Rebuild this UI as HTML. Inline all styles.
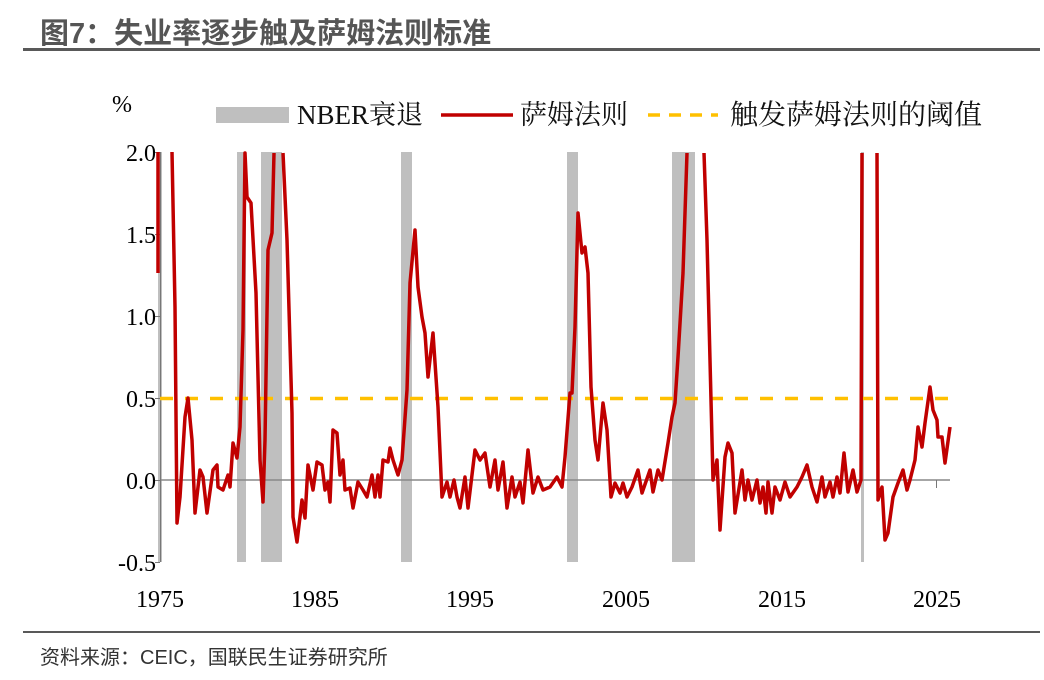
<!DOCTYPE html>
<html><head><meta charset="utf-8"><style>
body{margin:0;background:#fff;width:1044px;height:675px;overflow:hidden}
</style></head><body>
<svg width="1044" height="675" xmlns="http://www.w3.org/2000/svg">
<text x="40" y="43" font-family="Liberation Sans, Noto Sans CJK SC, sans-serif" font-size="29" font-weight="bold" fill="#555">图7：失业率逐步触及萨姆法则标准</text>
<rect x="23" y="48" width="1017" height="3" fill="#595959"/>
<rect x="23" y="631" width="1017" height="2" fill="#595959"/>
<text x="40" y="664" font-family="Liberation Sans, Noto Sans CJK SC, sans-serif" font-size="20" fill="#333">资料来源：CEIC，国联民生证券研究所</text>
<g fill="#bfbfbf">
<rect x="158" y="152" width="4" height="410"/>
<rect x="237" y="152" width="9" height="410"/>
<rect x="261" y="152" width="21" height="410"/>
<rect x="401" y="152" width="11" height="410"/>
<rect x="567" y="152" width="11" height="410"/>
<rect x="672" y="152" width="23" height="410"/>
<rect x="861" y="152" width="3" height="410"/>
</g>
<line x1="160" y1="480" x2="950" y2="480" stroke="#888" stroke-width="1.5"/>
<line x1="160.5" y1="152" x2="160.5" y2="562" stroke="#777" stroke-width="1"/>
<g stroke="#777" stroke-width="1">
<line x1="155" y1="152.5" x2="160" y2="152.5"/><line x1="155" y1="234.5" x2="160" y2="234.5"/>
<line x1="155" y1="316.5" x2="160" y2="316.5"/><line x1="155" y1="398.5" x2="160" y2="398.5"/>
<line x1="155" y1="480.5" x2="160" y2="480.5"/><line x1="155" y1="562.5" x2="160" y2="562.5"/>
<line x1="936.5" y1="480" x2="936.5" y2="488"/>
</g>
<g font-family="Liberation Serif, serif" font-size="24" fill="#000" text-anchor="end">
<text x="156" y="161">2.0</text><text x="156" y="243">1.5</text><text x="156" y="325">1.0</text>
<text x="156" y="407">0.5</text><text x="156" y="489">0.0</text><text x="156" y="571">-0.5</text>
</g>
<g font-family="Liberation Serif, serif" font-size="24" fill="#000" text-anchor="middle">
<text x="160" y="607">1975</text><text x="315" y="607">1985</text><text x="470" y="607">1995</text>
<text x="626" y="607">2005</text><text x="782" y="607">2015</text><text x="937" y="607">2025</text>
</g>
<text x="112" y="112" font-family="Liberation Serif, serif" font-size="24">%</text>
<rect x="216" y="107" width="73" height="16" fill="#bfbfbf"/>
<text x="297" y="124" font-family="Liberation Serif, Noto Serif CJK SC, serif" font-size="27" fill="#111">NBER衰退</text>
<line x1="441" y1="115" x2="513" y2="115" stroke="#c00000" stroke-width="3.5"/>
<text x="520" y="124" font-family="Liberation Serif, Noto Serif CJK SC, serif" font-size="27" fill="#111">萨姆法则</text>
<line x1="648" y1="115" x2="718" y2="115" stroke="#ffc000" stroke-width="3.5" stroke-dasharray="12,9"/>
<text x="730" y="124" font-family="Liberation Serif, Noto Serif CJK SC, serif" font-size="28" fill="#111">触发萨姆法则的阈值</text>
<line x1="160" y1="398.5" x2="952" y2="398.5" stroke="#ffc000" stroke-width="3.5" stroke-dasharray="13,12"/>
<path fill="none" stroke="#c00000" stroke-width="3.5" stroke-linejoin="round" d="M158,273 L158,152 M172,152 L175,307 177,523 180,497 185,417 188,398 192,440 195,513 200,470 203,477 207,513 213,470 217,465 218,487 223,490 228,475 230,487 233,443 237,458 240,427 243,330 245,153 247,197 251,203 256,293 260,460 263,502 265,440 268,250 272,233 274,153 M283,153 L287,240 292,413 293,517 297,542 302,500 305,518 308,465 313,490 317,462 322,465 325,490 328,482 330,502 333,430 337,433 340,475 343,460 345,490 350,488 353,508 358,482 363,490 367,497 372,475 375,497 378,475 380,497 383,460 388,462 390,448 393,460 398,475 402,460 407,390 410,283 415,230 418,287 422,317 425,333 428,377 433,333 438,407 442,497 447,482 450,497 454,480 457,497 460,508 465,477 468,508 475,450 480,460 485,453 490,487 495,460 498,490 503,462 507,508 512,477 515,497 520,482 523,503 528,450 533,493 538,477 543,490 550,487 557,477 562,487 565,457 570,393 572,393 575,327 578,213 582,253 585,247 588,273 591,387 595,440 598,460 603,403 607,430 611,497 615,483 620,493 623,483 627,497 632,487 638,470 642,493 650,470 653,492 658,470 662,480 668,443 672,417 675,403 678,357 683,273 687,153 M704,153 L707,240 712,440 713,480 717,460 720,530 725,457 728,443 732,453 735,513 742,470 745,500 748,480 752,500 757,480 760,503 763,487 766,513 768,482 772,513 775,487 780,500 785,482 790,497 797,487 802,477 807,465 812,487 817,502 822,477 825,497 830,482 833,497 837,477 840,493 844,453 848,492 853,470 857,492 861,480 862,153 M877,153 L878,500 882,487 885,540 888,533 893,497 898,483 903,470 907,490 910,480 915,460 918,427 922,447 925,423 930,387 933,410 937,420 938,437 942,437 945,463 950,427"/>
</svg>
</body></html>
